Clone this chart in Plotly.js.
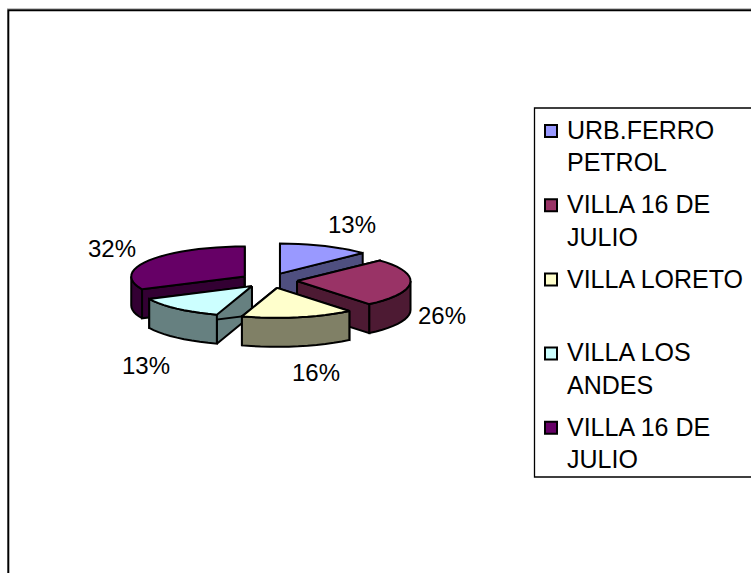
<!DOCTYPE html>
<html><head><meta charset="utf-8">
<script src="https://cdn.plot.ly/plotly-3.0.0.min.js"></script>
<style>html,body{margin:0;padding:0;background:#fff;overflow:hidden}#c{width:751px;height:573px}</style>
</head><body><div id="c"></div>
<script>
const categories = ["URB.FERRO<br>PETROL","VILLA 16 DE<br>JULIO","VILLA LORETO","VILLA LOS<br>ANDES","VILLA 16 DE<br>JULIO"];
const values = [13,26,16,13,32];
const topColors = ["#9999FF","#993366","#FFFFCC","#CCFFFF","#660066"];
const sideColors = ["#4F4F80","#4D1A33","#808066","#668080","#330033"];
const drawOrder = [0,4,1,3,2];
const labelAnchors = [[352,227],[442,318],[316,375],[146,368],[112,251]];
const sliceNudge = [[0,0],[0,0],[3,0],[2,0],[0,0]];

const W=751,H=573, cx=268.7, cy=280.5, rx=113.5, ry=30, depth=29, explode=0.25;
const legendTextX=567, legendSwatchX=551, legendFirstY=131, legendTextShift=2.3, legendPitch=74.2, legendLine=31;
const rad=d=>d*Math.PI/180;
const total=values.reduce((a,b)=>a+b,0);
const traces=[];
function poly(pts,fill){
  traces.push({type:'scatter',mode:'lines',x:pts.map(p=>p[0]),y:pts.map(p=>p[1]),fill:'toself',fillcolor:fill,
    line:{color:'#000',width:2,simplify:false},showlegend:false,hoverinfo:'skip'});
}
let acc=0;
const spans=values.map(v=>{const a=acc/total*360;acc+=v;return [a,acc/total*360];});
drawOrder.forEach(i=>{
  const [a,b]=spans[i],m=(a+b)/2;
  const ox=cx+explode*rx*Math.sin(rad(m))+sliceNudge[i][0], oy=cy-explode*ry*Math.cos(rad(m))+sliceNudge[i][1];
  const pt=(t,dz=0)=>[ox+rx*Math.sin(rad(t)),oy-ry*Math.cos(rad(t))+dz];
  const arc=(s,e,dz=0)=>{const n=Math.max(2,Math.ceil((e-s)/5)),o=[];for(let k=0;k<=n;k++)o.push(pt(s+(e-s)*k/n,dz));return o;};
  [a,b].forEach(t=>{const p=pt(t);poly([[ox,oy],p,[p[0],p[1]+depth],[ox,oy+depth],[ox,oy]],sideColors[i]);});
  const s=Math.max(a,90),e=Math.min(b,270);
  if(e>s){const up=arc(s,e),dn=arc(s,e,depth).reverse();poly(up.concat(dn,[up[0]]),sideColors[i]);}
  poly([[ox,oy]].concat(arc(a,b),[[ox,oy]]),topColors[i]);
});
traces.push({type:'scatter',mode:'text',x:labelAnchors.map(p=>p[0]),y:labelAnchors.map(p=>p[1]),
  text:values.map(v=>v+'%'),textposition:'middle center',textfont:{family:'Liberation Sans',size:24,color:'#000'},
  showlegend:false,hoverinfo:'skip',cliponaxis:false});
const firstYs=categories.map((c,i)=>legendFirstY+legendPitch*i);
traces.push({type:'scatter',mode:'markers',x:categories.map(()=>legendSwatchX),y:firstYs,
  marker:{symbol:'square',size:12,color:topColors,line:{color:'#000',width:2}},showlegend:false,hoverinfo:'skip'});
traces.push({type:'scatter',mode:'text',x:categories.map(()=>legendTextX),
  y:categories.map((c,i)=>firstYs[i]+legendTextShift+(c.split('<br>').length-1)*legendLine/2),
  text:categories,textposition:'middle right',textfont:{family:'Liberation Sans',size:25,color:'#000'},
  showlegend:false,hoverinfo:'skip',cliponaxis:false});
const layout={width:W,height:H,margin:{l:0,r:0,t:0,b:0,pad:0,autoexpand:false},paper_bgcolor:'#fff',plot_bgcolor:'#fff',
  xaxis:{range:[0,W],visible:false,fixedrange:true},yaxis:{range:[H,0],visible:false,fixedrange:true},
  showlegend:false,
  shapes:[
   {type:'line',xref:'x',yref:'y',x0:7,y0:8.5,x1:800,y1:8.5,line:{color:'#c4c4c4',width:1},layer:'below'},
   {type:'rect',xref:'x',yref:'y',x0:8.3,y0:10.3,x1:800,y1:620,line:{color:'#000',width:2},layer:'below'},
   {type:'rect',xref:'x',yref:'y',x0:534.5,y0:108,x1:800,y1:477,line:{color:'#000',width:1.3},layer:'below'}
  ]};
Plotly.newPlot('c',traces,layout,{displayModeBar:false,staticPlot:true});
</script></body></html>
